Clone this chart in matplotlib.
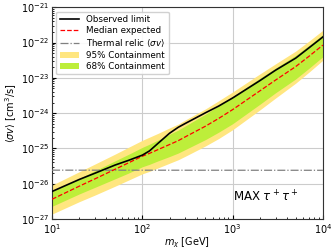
import numpy as np
import matplotlib
matplotlib.use("Agg")
import matplotlib.pyplot as plt
from matplotlib.patches import Patch
from matplotlib.lines import Line2D

# Dark-matter masses [GeV]
mass = [10, 20, 30, 50, 70, 100, 120, 150, 200, 250, 300, 500, 700, 1000, 2000, 3000, 5000, 7000, 10000]

# log10 of <sigma v> [cm^3/s]
observed_log = [-26.22, -25.88, -25.70, -25.47, -25.34, -25.19, -25.07, -24.85, -24.57, -24.40,
                -24.29, -23.99, -23.80, -23.57, -23.08, -22.78, -22.44, -22.15, -21.84]
median_log = [-26.44, -26.07, -25.86, -25.59, -25.41, -25.22, -25.14, -25.03, -24.89, -24.78,
              -24.67, -24.37, -24.15, -23.90, -23.37, -23.06, -22.68, -22.39, -22.07]
up95_log = [-26.04, -25.66, -25.44, -25.16, -24.97, -24.77, -24.68, -24.57, -24.42, -24.31,
            -24.19, -23.88, -23.65, -23.40, -22.89, -22.60, -22.24, -21.96, -21.65]
up68_log = [-26.22, -25.85, -25.63, -25.35, -25.17, -24.97, -24.88, -24.76, -24.60, -24.48,
            -24.36, -24.03, -23.79, -23.53, -23.01, -22.72, -22.36, -22.08, -21.77]
lo68_log = [-26.64, -26.29, -26.10, -25.86, -25.70, -25.52, -25.45, -25.35, -25.23, -25.13,
            -25.03, -24.75, -24.54, -24.30, -23.75, -23.42, -23.03, -22.73, -22.40]
lo95_log = [-26.86, -26.51, -26.32, -26.07, -25.90, -25.72, -25.65, -25.55, -25.42, -25.32,
            -25.22, -24.93, -24.72, -24.47, -23.91, -23.57, -23.15, -22.84, -22.50]

relic_mass = [10, 10000]
relic_sv = [2.42e-26, 2.40e-26]

legend_labels = ["Observed limit", "Median expected", r"Thermal relic $\langle\sigma v\rangle$",
                 "95% Containment", "68% Containment"]
channel_label = r"MAX $\tau^+\tau^+$"

m = np.array(mass)
p = lambda a: 10.0 ** np.array(a)

fig = plt.figure(figsize=(3.36, 2.52), dpi=100)
ax = fig.add_axes([0.155, 0.131, 0.806, 0.840])

c95 = "#FFE680"
c68 = "#BDEE3A"
ax.fill_between(m, p(lo95_log), p(up95_log), color=c95, lw=0, zorder=1)
ax.fill_between(m, p(lo68_log), p(up68_log), color=c68, lw=0, zorder=2)
ax.plot(m, p(median_log), color="red", ls="--", lw=0.9, zorder=4)
ax.plot(m, p(observed_log), color="black", lw=1.2, zorder=5)
ax.plot(relic_mass, relic_sv, color="gray", ls="-.", lw=0.9, zorder=3)

ax.set_xscale("log")
ax.set_yscale("log")
ax.set_xlim(10, 1e4)
ax.set_ylim(1e-27, 1e-21)
ax.grid(True, which="major", color="#cccccc", lw=0.8, zorder=0)
ax.set_axisbelow(True)
ax.tick_params(which="both", direction="in", labelsize=7, pad=2)
ax.tick_params(which="major", length=3)
ax.tick_params(which="minor", length=1.5)
for s in ax.spines.values():
    s.set_color("#333333")
    s.set_linewidth(0.8)

ax.set_xlabel(r"$m_\chi$ [GeV]", fontsize=7, labelpad=0)
ax.set_ylabel(r"$\langle\sigma v\rangle$ [cm$^3$/s]", fontsize=7, labelpad=1)

handles = [Line2D([], [], color="black", lw=1.2),
           Line2D([], [], color="red", ls="--", lw=0.9),
           Line2D([], [], color="gray", ls="-.", lw=0.9),
           Patch(facecolor=c95, edgecolor="none"),
           Patch(facecolor=c68, edgecolor="none")]
ax.legend(handles, legend_labels, loc="upper left", fontsize=6.3, frameon=True,
          handlelength=2.2, borderpad=0.4, labelspacing=0.25, framealpha=0.9)

ax.text(1000, 4.2e-27, channel_label, fontsize=8.5, ha="left", va="center")

fig.savefig("out.png", dpi=100)
